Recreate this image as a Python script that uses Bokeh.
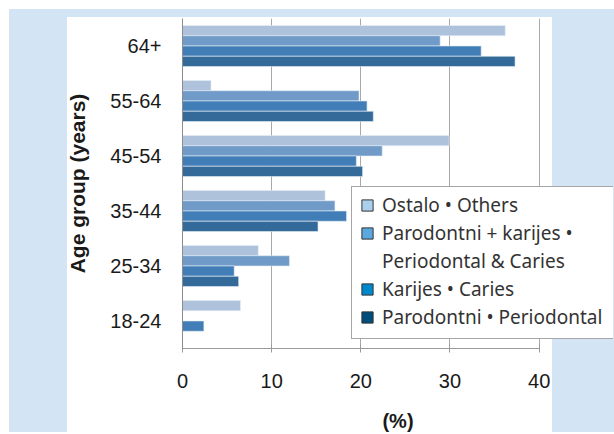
from bokeh.plotting import figure
from bokeh.models import (ColumnDataSource, FactorRange, Range1d, FixedTicker,
                          Legend, LegendItem)
from bokeh.transform import dodge
from bokeh.embed import file_html
from bokeh.resources import INLINE

# Age groups, bottom to top
ages = ["18-24", "25-34", "35-44", "45-54", "55-64", "64+"]

# Share of patients (%) by reason, per age group
ostalo = [6.5, 8.5, 16.0, 29.9, 3.2, 36.2]          # Others
paro_karijes = [0.0, 12.0, 17.1, 22.4, 19.8, 28.9]  # Periodontal & Caries
karijes = [2.4, 5.8, 18.4, 19.5, 20.7, 33.5]        # Caries
parodontni = [0.0, 6.3, 15.2, 20.2, 21.4, 37.3]     # Periodontal

x_ticks = [0, 10, 20, 30, 40]

# legend text, one entry per line; the second series wraps onto two lines
legend_lines = [["Ostalo \u2022 Others"],
                ["Parodontni + karijes \u2022", "Periodontal & Caries"],
                ["Karijes \u2022 Caries"],
                ["Parodontni \u2022 Periodontal"]]
bar_colors = ["#aec2dc", "#709bc8", "#417db6", "#346a99"]
swatch_colors = ["#aad0ee", "#5aa8de", "#0088cc", "#004c7a"]
offsets = [0.28, 0.093, -0.093, -0.28]

src = ColumnDataSource(dict(age=ages, ostalo=ostalo, paro_karijes=paro_karijes,
                            karijes=karijes, parodontni=parodontni))
cols = ["ostalo", "paro_karijes", "karijes", "parodontni"]

# the plot frame runs on to the right so the legend can overhang the panel;
# the axis itself stops at 40 %
p = figure(width=614, height=434, y_range=FactorRange(factors=ages),
           x_range=Range1d(0, 48.34), output_backend="svg",
           toolbar_location=None,
           min_border_left=182, min_border_right=1, min_border_top=18,
           min_border_bottom=83)
p.background_fill_alpha = 0
p.border_fill_alpha = 0
p.outline_line_color = None

# white chart panel on a light blue page frame, painted behind the canvas
blue = "#d3e4f4"
p.styles = {
    "background-color": "white",
    "background-image": "linear-gradient(white, white), "
                        f"linear-gradient({blue}, {blue})",
    "background-size": "485px 417px, 605px 423px",
    "background-position": "67px 17px, 9px 9px",
    "background-repeat": "no-repeat, no-repeat",
}

for col, c, off in zip(cols, bar_colors, offsets):
    p.hbar(y=dodge("age", off, range=p.y_range), right=col, height=0.187,
           left=0, source=src, fill_color=c, line_color="#e6eef7",
           line_width=0.6)

# axes
p.xaxis.ticker = FixedTicker(ticks=x_ticks)
p.xaxis.bounds = (0, 40)
p.xaxis.axis_line_color = "#9a9a9a"
p.xaxis.major_tick_line_color = "#9a9a9a"
p.xaxis.major_tick_in = 4
p.xaxis.major_tick_out = 4
p.xaxis.minor_tick_line_color = None
p.xaxis.major_label_text_font = "Liberation Sans"
p.xaxis.major_label_text_font_size = "20px"
p.xaxis.major_label_text_color = "#1a1a1a"
p.xaxis.major_label_standoff = 21
p.xaxis.axis_label = "(%)"
p.xaxis.axis_label_text_font = "Liberation Sans"
p.xaxis.axis_label_text_font_style = "bold"
p.xaxis.axis_label_text_font_size = "20px"
p.xaxis.axis_label_text_color = "#1a1a1a"
p.xaxis.axis_label_standoff = 19

p.yaxis.axis_line_color = "#8c8c8c"
p.yaxis.major_tick_line_color = None
p.yaxis.minor_tick_line_color = None
p.yaxis.major_label_text_font = "Liberation Sans"
p.yaxis.major_label_text_font_size = "20px"
p.yaxis.major_label_text_color = "#1a1a1a"
p.yaxis.major_label_standoff = 15
p.yaxis.axis_label = "Age group (years)"
p.yaxis.axis_label_text_font = "Liberation Sans"
p.yaxis.axis_label_text_font_style = "bold"
p.yaxis.axis_label_text_font_size = "21px"
p.yaxis.axis_label_text_color = "#1a1a1a"
p.yaxis.axis_label_standoff = 18

p.ygrid.grid_line_color = None
p.xgrid.grid_line_color = "#a8a8a8"
p.xgrid.grid_line_width = 1

# legend swatches: hidden renderers that only lend their style to the legend;
# continuation lines get a blank swatch
items = []
for col, lines, c in zip(cols, legend_lines, swatch_colors):
    r = p.hbar(y="age", right=col, height=0.2, source=src,
               fill_color=c, line_color="#333333", line_width=1,
               visible=False)
    items.append(LegendItem(label=lines[0], renderers=[r]))
    for extra in lines[1:]:
        blank = p.hbar(y="age", right=col, height=0.2, source=src,
                       fill_alpha=0, line_alpha=0, visible=False)
        items.append(LegendItem(label=extra, renderers=[blank]))

legend = Legend(items=items, location=(169, 9), margin=0,
                padding=dict(left=8, right=12, top=5, bottom=8), spacing=2,
                glyph_width=14, glyph_height=14,
                label_standoff=8, label_text_font="Noto Sans",
                label_text_font_size="19px", label_text_color="#333333",
                border_line_color="#4d4d4d", border_line_width=1.5,
                background_fill_color="white", background_fill_alpha=1)
p.add_layout(legend, "center")

open("out.html", "w").write(file_html(p, INLINE))
